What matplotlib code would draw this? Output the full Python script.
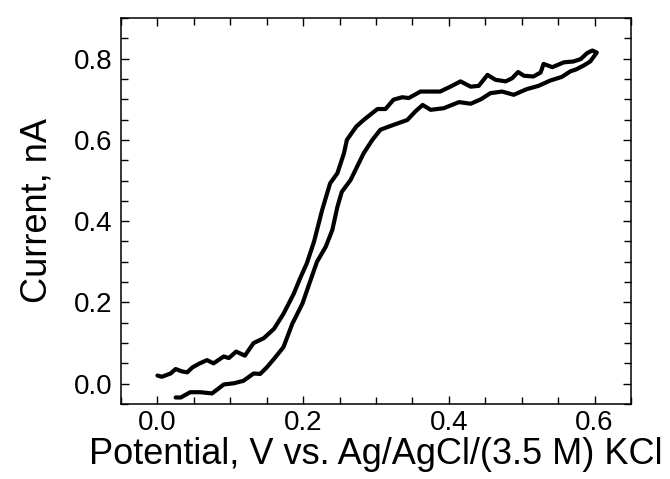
import matplotlib
matplotlib.use("Agg")
import matplotlib.pyplot as plt
from matplotlib.ticker import MultipleLocator

plt.rcParams['font.family'] = ['Liberation Sans', 'DejaVu Sans']

# Forward scan (lower branch)
fwd_potential = [0.025, 0.032, 0.045, 0.059, 0.075, 0.091, 0.105, 0.118, 0.132, 0.141,
                 0.150, 0.160, 0.173, 0.185, 0.199, 0.210, 0.219, 0.231, 0.240, 0.247,
                 0.253, 0.265, 0.283, 0.295, 0.306, 0.324, 0.343, 0.354, 0.364, 0.375,
                 0.393, 0.414, 0.430, 0.444, 0.457, 0.473, 0.489, 0.507, 0.523, 0.539,
                 0.555, 0.567, 0.574, 0.585, 0.594, 0.601, 0.603]
fwd_current = [-0.034, -0.034, -0.021, -0.021, -0.024, -0.002, 0.001, 0.007, 0.025, 0.024,
               0.040, 0.061, 0.090, 0.147, 0.197, 0.254, 0.300, 0.337, 0.378, 0.435,
               0.472, 0.501, 0.567, 0.600, 0.625, 0.637, 0.649, 0.670, 0.686, 0.674,
               0.678, 0.693, 0.689, 0.700, 0.715, 0.719, 0.711, 0.725, 0.733, 0.746,
               0.755, 0.769, 0.773, 0.783, 0.793, 0.810, 0.815]

# Reverse scan (upper branch)
rev_potential = [0.597, 0.590, 0.581, 0.571, 0.558, 0.542, 0.530, 0.526, 0.516, 0.503,
                 0.495, 0.487, 0.478, 0.464, 0.453, 0.441, 0.430, 0.416, 0.402, 0.388,
                 0.361, 0.345, 0.336, 0.324, 0.313, 0.302, 0.290, 0.283, 0.273, 0.260,
                 0.256, 0.247, 0.237, 0.226, 0.215, 0.205, 0.196, 0.187, 0.173, 0.160,
                 0.146, 0.132, 0.120, 0.108, 0.098, 0.091, 0.077, 0.068, 0.057, 0.048,
                 0.041, 0.034, 0.025, 0.018, 0.006, 0.000]
rev_current = [0.820, 0.814, 0.799, 0.793, 0.791, 0.779, 0.787, 0.766, 0.756, 0.758,
               0.767, 0.752, 0.744, 0.748, 0.760, 0.733, 0.731, 0.744, 0.731, 0.719,
               0.719, 0.703, 0.705, 0.699, 0.676, 0.676, 0.659, 0.649, 0.633, 0.600,
               0.567, 0.518, 0.493, 0.427, 0.350, 0.296, 0.260, 0.221, 0.172, 0.135,
               0.112, 0.100, 0.069, 0.079, 0.063, 0.067, 0.050, 0.058, 0.049, 0.040,
               0.028, 0.030, 0.036, 0.025, 0.017, 0.020]

x_ticks = [0.0, 0.2, 0.4, 0.6]
y_ticks = [0.0, 0.2, 0.4, 0.6, 0.8]

fig = plt.figure(figsize=(6.7, 4.79), dpi=100)
ax = fig.add_axes([0.1806, 0.1566, 0.7612, 0.8058])

potential = fwd_potential + rev_potential
current = fwd_current + rev_current
ax.plot(potential, current, color='black', lw=3.0, solid_joinstyle='round',
        solid_capstyle='round')

ax.set_xlim(-0.05, 0.65)
ax.set_ylim(-0.05, 0.9)
ax.set_xticks(x_ticks)
ax.set_yticks(y_ticks)
ax.set_xticklabels([f"{t:.1f}" for t in x_ticks])
ax.set_yticklabels([f"{t:.1f}" for t in y_ticks])
ax.xaxis.set_minor_locator(MultipleLocator(0.05))
ax.yaxis.set_minor_locator(MultipleLocator(0.05))

ax.tick_params(which='both', direction='in', top=True, right=True, width=1.0, color='black')
ax.tick_params(which='major', length=6, labelsize=20)
ax.tick_params(which='minor', length=5)
ax.tick_params(axis='x', which='major', pad=4)
ax.tick_params(axis='y', which='major', pad=6)
for s in ax.spines.values():
    s.set_linewidth(1.1)

ax.set_xlabel("Potential, V vs. Ag/AgCl/(3.5 M) KCl", fontsize=26, labelpad=1)
ax.set_ylabel("Current, nA", fontsize=26, labelpad=14)

fig.savefig("out.png", dpi=100)
